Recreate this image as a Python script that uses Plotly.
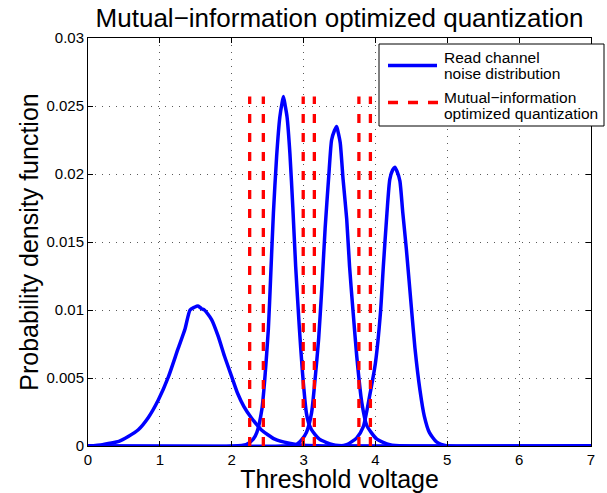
import plotly.graph_objects as go

# ---- data ----
c1_x = [0, 0.2, 0.3, 0.43, 0.56, 0.7, 0.84, 0.98, 1.12, 1.25, 1.35, 1.42, 1.48, 1.53, 1.58, 1.62,
        1.72, 1.81, 1.9, 2.0, 2.08, 2.17, 2.27, 2.41, 2.6, 2.8, 3.0, 3.3, 7]
c1_y = [0, 0.0001, 0.0002, 0.00034, 0.0007, 0.0012, 0.0021, 0.0034, 0.0051, 0.0071, 0.0086, 0.0100,
        0.0102, 0.0103, 0.0101, 0.0100, 0.0093, 0.0081, 0.0066, 0.0051, 0.0039, 0.0029, 0.0021,
        0.0012, 0.0005, 0.0002, 0.00005, 0, 0]

c2_x = [0, 2.0, 2.2, 2.3, 2.35, 2.42, 2.46, 2.51, 2.54, 2.58, 2.625, 2.67, 2.70, 2.72, 2.745, 2.77,
        2.81, 2.85, 2.89, 2.94, 2.985, 3.04, 3.07, 3.11, 3.22, 3.41, 3.6, 7]
c2_y = [0, 0, 0.0001, 0.0005, 0.0010, 0.0027, 0.0049, 0.0086, 0.0122, 0.0171, 0.0213, 0.0242, 0.0252,
        0.0257, 0.0250, 0.0242, 0.0215, 0.0176, 0.0132, 0.0088, 0.0054, 0.0024, 0.0017, 0.0012,
        0.0005, 0.0001, 0, 0]

c3_x = [0, 2.7, 2.9, 2.98, 3.04, 3.11, 3.16, 3.21, 3.256, 3.30, 3.35, 3.39, 3.43, 3.46, 3.48, 3.51,
        3.55, 3.6, 3.64, 3.69, 3.74, 3.81, 3.88, 4.02, 4.2, 4.4, 7]
c3_y = [0, 0, 0.0001, 0.0005, 0.0010, 0.0024, 0.0049, 0.0079, 0.0118, 0.0160, 0.0198, 0.0225, 0.0232,
        0.0235, 0.0231, 0.0223, 0.0196, 0.0167, 0.0132, 0.0098, 0.0066, 0.0032, 0.0015, 0.0005,
        0.0001, 0, 0]

c4_x = [0, 3.5, 3.6, 3.74, 3.83, 3.92, 4.0, 4.07, 4.11, 4.16, 4.2, 4.24, 4.27, 4.30, 4.34, 4.38,
        4.43, 4.5, 4.55, 4.62, 4.68, 4.75, 4.85, 5.0, 7]
c4_y = [0, 0, 0.0001, 0.0006, 0.0014, 0.0037, 0.0061, 0.0098, 0.0132, 0.0171, 0.0196, 0.0203, 0.0205,
        0.0202, 0.0195, 0.0172, 0.0145, 0.0102, 0.0072, 0.0041, 0.0022, 0.0010, 0.0003, 0, 0]

thresholds = [2.25, 2.44, 2.995, 3.15, 3.77, 3.93]
threshold_height = 0.0257

x_ticks = [0, 1, 2, 3, 4, 5, 6, 7]
y_ticks = [0, 0.005, 0.01, 0.015, 0.02, 0.025, 0.03]
y_tick_labels = ["0", "0.005", "0.01", "0.015", "0.02", "0.025", "0.03"]

legend_noise = ["Read channel", "noise distribution"]
legend_quant = ["Mutual\u2212information", "optimized quantization"]

FONT = "Liberation Sans, Arial, Helvetica, sans-serif"
BLUE = "rgb(0,0,255)"
RED = "rgb(255,0,0)"

W, H = 607, 493
ML, MR, MT, MB = 88, 16, 38, 47
PW, PH = W - ML - MR, H - MT - MB


def px(xp):  # pixel x -> paper x
    return (xp - ML) / PW


def py(yp):  # pixel y (from top) -> paper y
    return (H - MB - yp) / PH


fig = go.Figure()
curves = [(c1_x, c1_y), (c2_x, c2_y), (c3_x, c3_y), (c4_x, c4_y)]
for cx, cy in curves:
    fig.add_trace(go.Scatter(
        x=cx, y=cy, mode="lines",
        line=dict(color=BLUE, width=3.5, shape="spline", smoothing=0.6),
        showlegend=False, hoverinfo="skip",
    ))

tx, ty = [], []
for t in thresholds:
    tx += [t, t, None]
    ty += [0, threshold_height, None]
fig.add_trace(go.Scatter(
    x=tx, y=ty, mode="lines",
    line=dict(color=RED, width=3.3, dash="9px,10px"),
    showlegend=False, hoverinfo="skip",
))

axis_common = dict(
    showline=True, linecolor="black", linewidth=1, mirror="ticks",
    ticks="inside", ticklen=5, tickcolor="black", tickwidth=1,
    showgrid=True, gridcolor="rgb(90,90,90)", griddash="1px,6px", gridwidth=1,
    zeroline=False, automargin=False,
    tickfont=dict(family=FONT, size=15, color="black"),
)

fig.update_xaxes(
    range=[0, 7], tickvals=x_ticks, ticktext=[str(v) for v in x_ticks],
    title=dict(text="Threshold voltage", font=dict(family=FONT, size=25, color="black"), standoff=6),
    **axis_common,
)
fig.update_yaxes(
    range=[0, 0.03], tickvals=y_ticks, ticktext=y_tick_labels,
    title=dict(text="Probability density function", font=dict(family=FONT, size=25, color="black"), standoff=0),
    **axis_common,
)

# ---- legend drawn as a boxed key ----
shapes = [
    dict(type="rect", xref="paper", yref="paper",
         x0=px(379), x1=px(604), y0=py(126), y1=py(44),
         fillcolor="white", line=dict(color="black", width=1), layer="above"),
    dict(type="line", xref="paper", yref="paper",
         x0=px(388), x1=px(437), y0=py(65.5), y1=py(65.5),
         line=dict(color=BLUE, width=3.5), layer="above"),
    dict(type="line", xref="paper", yref="paper",
         x0=px(388), x1=px(438), y0=py(102.5), y1=py(102.5),
         line=dict(color=RED, width=3.3, dash="10px,10px"), layer="above"),
]
annotations = []
for text, yy in zip(legend_noise + legend_quant, [57.5, 73.5, 97.5, 113.5]):
    annotations.append(dict(
        text=text, xref="paper", yref="paper", x=px(442), y=py(yy),
        xanchor="left", yanchor="middle", showarrow=False,
        font=dict(family=FONT, size=15.5, color="black"),
    ))

fig.update_layout(
    width=W, height=H,
    margin=dict(l=ML, r=MR, t=MT, b=MB),
    paper_bgcolor="white", plot_bgcolor="white",
    title=dict(text="Mutual\u2212information optimized quantization",
               font=dict(family=FONT, size=26, color="black"),
               x=0.5, xref="paper", xanchor="center", y=0.9635, yanchor="middle"),
    shapes=shapes, annotations=annotations,
    showlegend=False, hovermode=False,
)

fig.write_html("out.html",
               config={"displayModeBar": False, "staticPlot": True},
               post_script="document.body.style.margin='0';document.body.style.overflow='hidden';")
